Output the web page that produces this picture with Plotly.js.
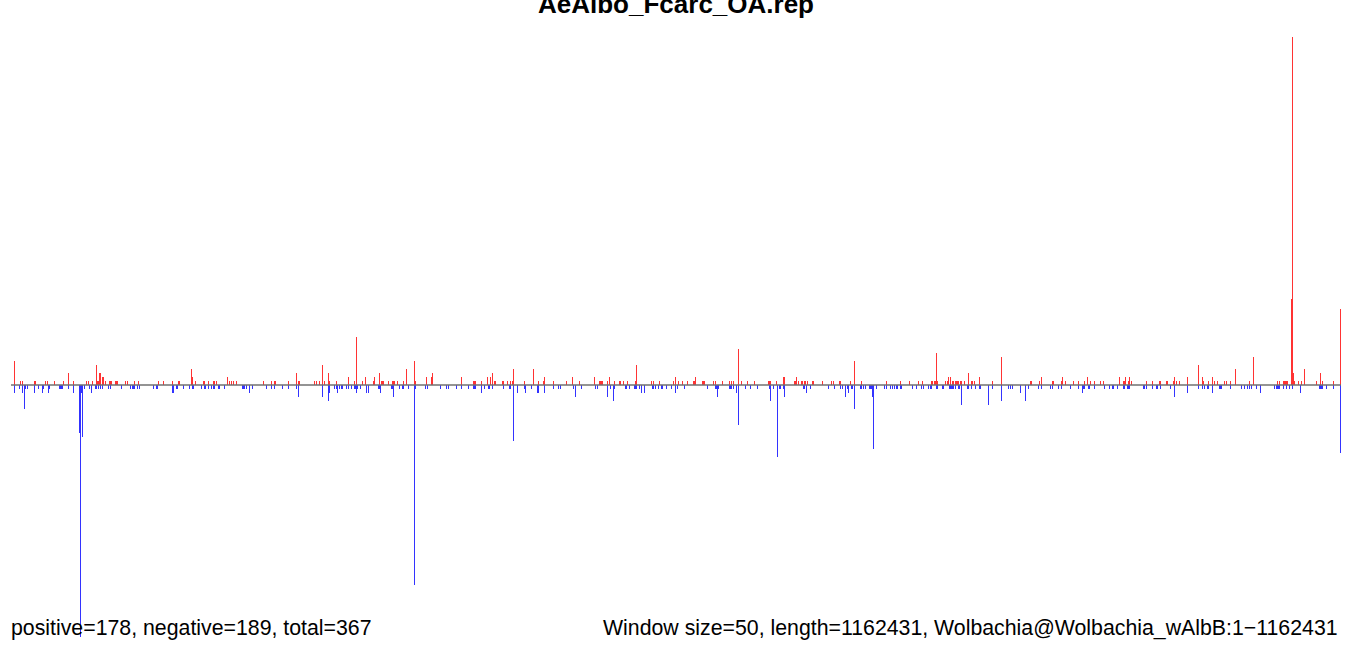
<!DOCTYPE html>
<html><head><meta charset="utf-8">
<script src="https://cdn.plot.ly/plotly-3.0.1.min.js"></script>
<style>html,body{margin:0;padding:0;background:#fff;} #chart{width:1352px;height:646px;}</style>
</head><body><div id="chart"></div>
<script>
const titleText = "AeAlbo_Fcarc_OA.rep";
const leftNote = "positive=178, negative=189, total=367";
const rightNote = "Window size=50, length=1162431, Wolbachia@Wolbachia_wAlbB:1\u22121162431";
const genomeLengthKb = 1162.431;

// positive windows: position (kb) and count
const posPositionKb = [
 3.1, 8.3, 10.1, 20.5, 21.4, 30.2, 31.9, 38.0, 45.9, 50.3,
 54.6, 66.0, 67.7, 71.2, 74.7, 75.6, 76.5, 77.3, 78.2, 80.0,
 80.8, 82.6, 86.1, 87.0, 87.8, 91.3, 92.2, 93.1, 100.1, 101.8,
 107.9, 111.4, 128.9, 133.3, 141.2, 146.4, 147.3, 157.8, 158.6, 161.3,
 168.2, 169.1, 172.6, 177.0, 177.9, 179.6, 189.2, 191.0, 192.7, 194.5,
 197.1, 220.7, 227.7, 230.3, 231.2, 242.5, 249.5, 251.3, 252.1, 265.3,
 267.0, 269.6, 272.3, 274.0, 277.5, 278.4, 284.5, 295.0, 300.2, 302.0,
 307.2, 309.8, 316.8, 317.7, 322.1, 323.8, 324.7, 325.6, 329.9, 333.4,
 334.3, 335.2, 337.8, 343.0, 345.7, 352.7, 353.5, 363.1, 367.5, 368.4,
 393.7, 404.2, 405.1, 406.0, 411.2, 416.5, 419.1, 420.8, 422.6, 423.5,
 429.6, 430.4, 433.9, 436.6, 438.3, 439.2, 448.8, 456.7, 461.0, 465.4,
 466.3, 474.1, 485.5, 490.8, 496.9, 510.0, 514.3, 515.2, 516.1, 517.0,
 521.3, 523.1, 527.5, 531.8, 532.7, 535.3, 538.8, 545.8, 546.7, 559.8,
 561.5, 566.8, 579.0, 580.8, 583.4, 586.9, 591.3, 596.5, 597.4, 598.3,
 604.4, 605.2, 606.1, 614.0, 615.7, 621.9, 628.0, 629.7, 631.5, 635.8,
 638.5, 643.7, 649.8, 662.1, 662.9, 663.8, 669.0, 675.2, 676.0, 684.8,
 685.7, 686.5, 688.3, 690.9, 691.8, 693.5, 694.4, 696.1, 700.5, 701.4,
 709.3, 717.1, 718.9, 724.1, 725.0, 733.7, 737.2, 743.3, 765.2, 777.4,
 785.3, 793.2, 796.7, 804.5, 805.4, 807.1, 808.0, 808.9, 809.8, 816.8,
 818.5, 819.4, 821.1, 822.9, 823.7, 825.5, 826.4, 827.2, 828.1, 829.9,
 830.7, 833.4, 836.9, 839.5, 840.4, 842.1, 846.5, 857.8, 865.7, 891.0,
 891.9, 898.9, 900.7, 910.3, 911.1, 918.1, 919.0, 921.6, 928.6, 933.0,
 938.2, 940.9, 943.5, 947.0, 952.2, 954.8, 968.8, 972.3, 973.2, 974.1,
 976.7, 977.6, 979.3, 992.4, 997.7, 1003.8, 1004.7, 1009.9, 1010.8, 1016.0,
 1016.9, 1018.6, 1021.3, 1028.3, 1037.9, 1041.4, 1042.2, 1046.6, 1050.1, 1051.9,
 1054.5, 1060.6, 1062.3, 1065.8, 1070.2, 1082.4, 1085.9, 1106.9, 1108.7, 1112.2,
 1113.0, 1113.9, 1114.8, 1115.7, 1119.2, 1120.0, 1120.9, 1121.8, 1125.3, 1127.9,
 1130.5, 1141.0, 1144.5, 1146.3, 1155.9, 1162.0
];
const posValue = [
 6, 1, 1, 1, 1, 1, 1, 1, 1, 3,
 1, 1, 1, 1, 5, 1, 1, 3, 3, 2,
 2, 1, 1, 1, 1, 1, 1, 1, 1, 1,
 1, 1, 1, 1, 1, 1, 1, 4, 2, 1,
 1, 1, 1, 1, 1, 1, 2, 1, 1, 1,
 1, 1, 1, 1, 1, 1, 3, 1, 1, 1,
 1, 1, 5, 1, 3, 1, 1, 2, 1, 12,
 1, 2, 1, 2, 3, 1, 1, 1, 1, 1,
 1, 1, 1, 1, 4, 6, 1, 2, 2, 3,
 2, 1, 1, 1, 1, 2, 2, 3, 1, 1,
 1, 1, 1, 1, 1, 4, 1, 4, 1, 1,
 2, 1, 1, 2, 1, 2, 1, 1, 1, 1,
 1, 2, 1, 1, 1, 1, 1, 1, 5, 1,
 1, 1, 1, 2, 1, 1, 1, 1, 1, 2,
 1, 1, 1, 1, 1, 1, 1, 1, 1, 9,
 1, 1, 1, 1, 1, 1, 1, 2, 2, 1,
 1, 2, 1, 1, 1, 1, 1, 1, 1, 1,
 1, 1, 1, 1, 1, 1, 6, 1, 1, 1,
 1, 1, 1, 1, 1, 1, 1, 8, 1, 1,
 1, 2, 2, 1, 1, 1, 1, 1, 1, 1,
 1, 1, 3, 1, 1, 1, 2, 1, 7, 1,
 1, 1, 2, 1, 1, 1, 2, 1, 1, 1,
 1, 2, 1, 1, 1, 1, 2, 1, 1, 2,
 1, 2, 1, 1, 1, 1, 1, 1, 1, 1,
 2, 1, 1, 2, 5, 2, 1, 1, 2, 1,
 1, 1, 1, 1, 4, 1, 7, 1, 1, 1,
 1, 1, 1, 1, 21.5, 87, 3, 1, 1, 1,
 4, 1, 3, 1, 1, 19
];

// negative windows: position (kb) and count
const negPositionKb = [
 3.1, 7.4, 10.1, 11.8, 12.7, 14.4, 20.5, 24.0, 27.5, 28.4,
 32.8, 33.6, 42.4, 43.3, 44.1, 45.0, 50.3, 54.6, 59.9, 60.7,
 61.6, 62.5, 64.2, 68.6, 70.4, 73.9, 74.7, 76.5, 78.2, 80.0,
 85.2, 87.0, 96.6, 104.4, 106.2, 107.1, 107.9, 110.6, 112.3, 124.5,
 127.2, 128.0, 141.2, 142.0, 144.6, 145.5, 150.8, 156.0, 158.6, 159.5,
 166.5, 169.1, 170.0, 172.6, 175.2, 177.0, 177.9, 181.4, 182.2, 186.6,
 202.3, 203.2, 204.1, 205.8, 208.4, 211.1, 223.3, 227.7, 230.3, 237.3,
 242.5, 249.5, 251.3, 272.3, 277.5, 278.4, 282.7, 284.5, 285.4, 287.1,
 288.9, 289.7, 293.2, 295.0, 297.6, 300.2, 301.1, 302.0, 302.8, 305.5,
 310.7, 312.5, 321.2, 322.1, 322.9, 332.6, 333.4, 334.3, 339.5, 342.2,
 343.0, 347.4, 352.7, 353.5, 362.3, 364.0, 375.4, 380.6, 382.4, 389.4,
 393.7, 399.9, 404.2, 405.1, 406.0, 411.2, 413.8, 417.3, 418.2, 420.8,
 430.4, 435.7, 436.6, 439.2, 442.7, 448.8, 449.7, 454.9, 460.2, 461.0,
 466.3, 474.1, 478.5, 480.3, 491.6, 493.4, 498.6, 510.9, 512.6, 521.3,
 524.0, 526.6, 527.5, 537.1, 537.9, 540.6, 544.9, 545.8, 546.7, 549.3,
 551.1, 553.7, 560.7, 561.5, 563.3, 565.9, 568.5, 569.4, 572.9, 577.3,
 580.8, 582.5, 588.6, 608.7, 615.7, 616.6, 617.5, 618.4, 628.0, 628.8,
 629.7, 631.5, 634.1, 635.8, 642.0, 646.3, 652.4, 662.9, 663.8, 666.4,
 669.9, 671.7, 672.5, 675.2, 676.0, 692.6, 693.5, 695.3, 698.8, 714.5,
 719.7, 725.0, 726.7, 729.4, 731.1, 732.0, 734.6, 735.5, 737.2, 742.5,
 743.3, 745.1, 746.8, 750.3, 751.2, 752.1, 753.0, 753.8, 756.4, 763.4,
 765.2, 768.7, 770.4, 772.2, 773.9, 774.8, 777.4, 778.3, 787.9, 791.4,
 795.8, 797.5, 801.9, 803.6, 804.5, 808.9, 809.8, 814.1, 815.0, 820.2,
 821.1, 822.0, 822.9, 823.7, 825.5, 828.1, 829.0, 830.7, 836.0, 836.9,
 839.5, 843.0, 846.5, 847.3, 854.3, 857.8, 865.7, 871.8, 873.6, 875.3,
 882.3, 886.7, 889.3, 898.0, 900.7, 908.5, 910.3, 915.5, 918.1, 926.0,
 933.0, 936.5, 937.4, 938.2, 941.7, 942.6, 947.0, 955.7, 960.1, 962.7,
 963.6, 967.1, 972.3, 973.2, 975.8, 976.7, 977.6, 989.8, 990.7, 992.4,
 997.7, 1001.2, 1002.0, 1004.7, 1013.4, 1016.9, 1028.3, 1037.9, 1041.4, 1043.1,
 1045.7, 1046.6, 1050.1, 1056.2, 1057.1, 1058.0, 1065.8, 1075.5, 1078.1, 1080.7,
 1082.4, 1084.2, 1088.6, 1092.1, 1104.3, 1106.0, 1106.9, 1107.8, 1108.7, 1112.2,
 1114.8, 1117.4, 1120.0, 1127.0, 1143.6, 1144.5, 1145.4, 1146.3, 1149.7, 1155.9,
 1162.0
];
const negValue = [
 -2, -1, -2, -6, -1, -1, -2, -1, -2, -1,
 -2, -1, -1, -1, -1, -1, -1, -2, -12, -63,
 -2, -13, -1, -1, -2, -1, -1, -1, -1, -1,
 -1, -1, -1, -1, -1, -1, -1, -1, -1, -1,
 -1, -1, -2, -2, -1, -1, -1, -1, -1, -1,
 -1, -1, -1, -1, -1, -1, -1, -1, -1, -1,
 -1, -1, -1, -1, -2, -1, -1, -1, -1, -1,
 -1, -1, -3, -3, -4, -2, -1, -1, -2, -1,
 -1, -1, -1, -1, -1, -1, -1, -2, -1, -1,
 -2, -2, -1, -1, -2, -1, -1, -3, -1, -1,
 -1, -1, -50, -1, -1, -1, -1, -1, -1, -1,
 -1, -1, -1, -1, -1, -2, -1, -1, -1, -1,
 -1, -1, -1, -14, -2, -1, -2, -1, -2, -2,
 -2, -1, -1, -1, -1, -3, -1, -1, -1, -3,
 -1, -4, -1, -1, -1, -1, -1, -1, -1, -1,
 -2, -2, -1, -1, -1, -1, -1, -1, -1, -1,
 -2, -1, -1, -1, -1, -1, -3, -1, -1, -1,
 -1, -1, -2, -10, -1, -1, -1, -1, -4, -1,
 -18, -1, -1, -1, -3, -1, -1, -2, -1, -1,
 -1, -1, -1, -3, -1, -2, -1, -1, -6, -1,
 -1, -1, -1, -1, -1, -1, -3, -16, -1, -1,
 -1, -1, -1, -1, -1, -1, -1, -1, -1, -1,
 -1, -1, -1, -1, -1, -1, -1, -1, -1, -1,
 -1, -1, -1, -1, -1, -1, -1, -5, -1, -1,
 -1, -1, -1, -1, -5, -1, -4, -1, -1, -1,
 -2, -4, -1, -1, -1, -1, -1, -1, -1, -1,
 -1, -2, -1, -1, -1, -1, -1, -1, -1, -1,
 -1, -1, -1, -1, -1, -1, -1, -1, -1, -1,
 -1, -1, -1, -1, -1, -3, -2, -1, -1, -1,
 -1, -1, -2, -1, -1, -1, -1, -1, -1, -1,
 -1, -1, -1, -2, -1, -1, -1, -1, -1, -1,
 -1, -1, -1, -2, -1, -1, -1, -1, -1, -1,
 -17
];

const FONT = '"Liberation Sans", Arial, Helvetica, sans-serif';
const barWidthKb = 0.7;

const traces = [
  {type: 'bar', x: posPositionKb, y: posValue, width: barWidthKb,
   marker: {color: '#ff0000', line: {width: 0}}, hoverinfo: 'skip'},
  {type: 'bar', x: negPositionKb, y: negValue, width: barWidthKb,
   marker: {color: '#0000ff', line: {width: 0}}, hoverinfo: 'skip'}
];

const layout = {
  width: 1352, height: 646,
  margin: {l: 11, r: 11, t: 0, b: 0, pad: 0},
  paper_bgcolor: '#ffffff', plot_bgcolor: '#ffffff',
  showlegend: false, barmode: 'overlay',
  font: {family: FONT, color: '#000000'},
  xaxis: {range: [0, genomeLengthKb], visible: false, showgrid: false, zeroline: false},
  yaxis: {range: [-65.25, 96.25], visible: false, showgrid: false, zeroline: false},
  shapes: [{type: 'line', xref: 'x', yref: 'y', x0: 0, x1: genomeLengthKb, y0: 0, y1: 0,
            line: {color: '#707070', width: 1.5}, layer: 'above'}],
  annotations: [
    {text: titleText, xref: 'paper', yref: 'paper', x: 0.5, y: 0.994,
     xanchor: 'center', yanchor: 'middle', showarrow: false,
     font: {family: FONT, size: 26, weight: 'bold', color: '#000000'}},
    {text: leftNote, xref: 'paper', yref: 'paper', x: -0.0015, y: 0.0285,
     xanchor: 'left', yanchor: 'middle', showarrow: false,
     font: {family: FONT, size: 21.3, color: '#000000'}},
    {text: rightNote, xref: 'paper', yref: 'paper', x: 0.9993, y: 0.0285,
     xanchor: 'right', yanchor: 'middle', showarrow: false,
     font: {family: FONT, size: 21.3, color: '#000000'}}
  ]
};

Plotly.newPlot('chart', traces, layout, {staticPlot: true, displayModeBar: false});
</script>
</body></html>
